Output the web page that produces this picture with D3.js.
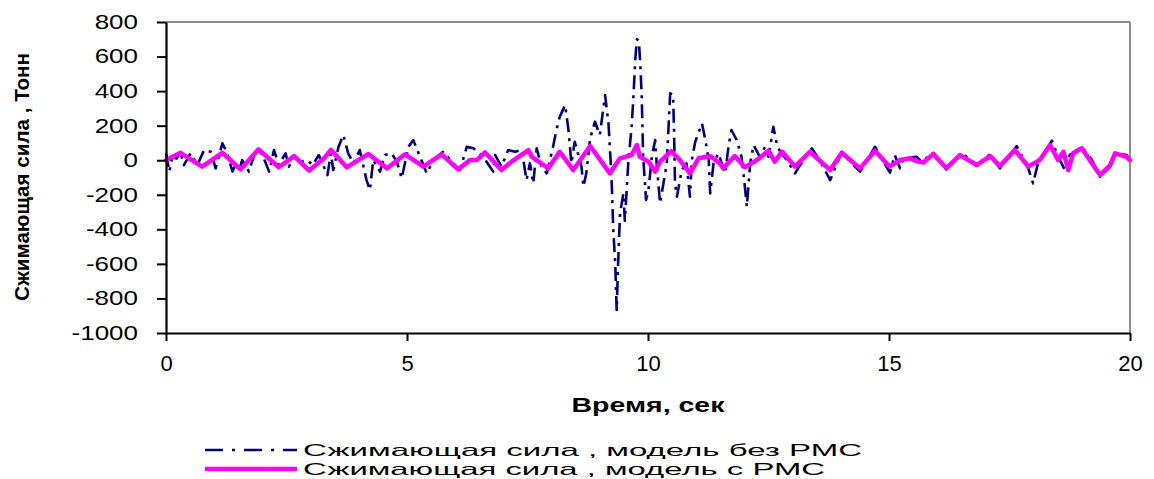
<!DOCTYPE html>
<html><head><meta charset="utf-8">
<script src="https://cdn.jsdelivr.net/npm/d3@7"></script>
<style>body{margin:0;background:#fff}svg{display:block}text{font-family:"Liberation Sans",Arial,sans-serif}</style>
</head><body>
<svg id="c" width="1154" height="479"></svg>
<script>
const yTicks = [800,600,400,200,0,-200,-400,-600,-800,-1000];
const xTicks = [0,5,10,15,20];
const yTitle = "Сжимающая сила , Тонн";
const xTitle = "Время, сек";
const seriesNames = ["Сжимающая сила , модель без РМС","Сжимающая сила , модель с РМС"];

const timeNoRMS = [0.00,0.07,0.13,0.22,0.30,0.37,0.51,0.65,0.79,0.93,1.03,1.17,1.27,1.38,1.45,1.51,1.58,1.72,1.83,1.93,2.03,2.14,2.24,2.34,2.48,2.55,2.66,2.79,2.93,3.04,3.17,3.35,3.42,3.47,3.58,3.68,3.78,3.89,4.02,4.16,4.23,4.30,4.44,4.54,4.68,4.79,4.89,5.03,5.13,5.27,5.41,5.55,5.75,5.96,6.10,6.24,6.38,6.58,6.79,6.83,6.96,7.10,7.24,7.38,7.48,7.55,7.62,7.69,7.79,7.90,8.03,8.10,8.17,8.28,8.35,8.41,8.48,8.62,8.66,8.72,8.80,8.90,9.00,9.11,9.18,9.22,9.25,9.28,9.32,9.35,9.38,9.42,9.49,9.52,9.59,9.66,9.69,9.74,9.77,9.81,9.84,9.87,9.90,9.96,10.01,10.08,10.15,10.18,10.25,10.32,10.39,10.46,10.52,10.54,10.56,10.60,10.70,10.80,10.87,10.91,10.98,11.12,11.19,11.26,11.29,11.36,11.46,11.60,11.67,11.73,11.84,11.94,12.01,12.05,12.12,12.19,12.32,12.43,12.50,12.60,12.67,12.74,12.88,13.05,13.22,13.40,13.60,13.78,14.02,14.20,14.40,14.71,15.02,15.12,15.23,15.30,15.57,15.68,15.92,16.19,16.51,16.82,17.10,17.30,17.65,17.89,17.99,18.09,18.38,18.51,18.65,18.75,19.00,19.21,19.38,19.59,19.69,19.93,20.00];
const forceNoRMS = [40,-66,20,10,45,-28,40,-28,59,49,-47,98,40,-66,-18,-66,1,-66,30,59,11,-66,59,-28,40,-37,20,-10,1,-28,30,-86,40,-57,78,146,40,-18,59,-115,-172,1,-66,30,40,-8,-105,78,117,20,-76,1,49,-18,-57,78,69,20,-66,30,-37,59,49,59,-115,-18,-134,69,-37,-76,78,175,252,319,175,-18,107,-37,-153,-76,127,223,146,377,213,20,-153,-404,-597,-867,-597,-307,-192,-350,-18,194,329,600,700,690,560,367,20,-230,-172,20,117,-18,-250,-134,-18,387,377,175,-134,-211,-57,-18,-211,1,107,213,117,1,-192,-18,40,-76,78,175,117,20,-153,-269,-18,88,20,78,20,194,98,49,1,-76,0,69,-20,-115,49,-10,-66,78,-72,30,-47,11,20,-8,43,-53,43,-28,36,-47,82,-47,-134,-18,113,20,-57,30,78,1,-95,-37,40,30,1];

const timeRMS = [0.00,0.30,0.75,1.17,1.55,1.92,2.34,2.66,2.97,3.28,3.42,3.75,3.99,4.20,4.59,4.96,5.34,5.72,6.06,6.31,6.45,6.62,6.96,7.17,7.52,7.59,7.93,8.17,8.45,8.80,9.21,9.42,9.66,9.77,9.83,10.01,10.15,10.25,10.48,10.65,10.87,11.05,11.29,11.49,11.56,11.80,12.01,12.26,12.50,12.63,12.78,13.05,13.36,13.78,14.02,14.40,14.71,15.01,15.23,15.44,15.57,15.71,15.92,16.19,16.47,16.82,17.10,17.30,17.61,17.89,18.13,18.34,18.51,18.62,18.72,18.82,19.00,19.21,19.38,19.59,19.69,19.93,20.00];
const forceRMS = [0,43,-37,43,-53,63,-41,24,-60,11,60,-41,1,36,-47,34,-37,34,-53,1,1,45,-57,-8,59,20,-47,49,-57,82,-76,11,30,88,20,-8,-66,-8,52,5,-76,11,24,-18,-47,24,-41,1,55,-8,50,-37,49,-57,43,-47,55,-37,1,11,-5,-14,36,-47,30,-28,24,-34,59,-37,1,88,1,49,-57,40,69,-18,-86,-28,40,20,1];

const svg = d3.select("#c");
const L = 166, R = 1130, T = 22, B = 333;
const x = d3.scaleLinear().domain([0,20]).range([L,R]);
const y = d3.scaleLinear().domain([-1000,800]).range([B,T]);

// frame (gray top/right)
svg.append("line").attr("x1",L).attr("x2",R).attr("y1",T).attr("y2",T).attr("stroke","#8c8c8c").attr("stroke-width",2);
svg.append("line").attr("x1",R).attr("x2",R).attr("y1",T).attr("y2",B).attr("stroke","#8c8c8c").attr("stroke-width",2);

// data lines
const dataNo = timeNoRMS.map((t,i)=>[t,forceNoRMS[i]]);
const dataR = timeRMS.map((t,i)=>[t,forceRMS[i]]);
const line = d3.line().x(d=>x(d[0])).y(d=>y(d[1]));
svg.append("path").attr("d",line(dataNo)).attr("fill","none").attr("stroke","#000080")
  .attr("stroke-width",2.6).attr("stroke-dasharray","14,6,3,6").attr("stroke-linejoin","round");
svg.append("path").attr("d",line(dataR)).attr("fill","none").attr("stroke","#ff00ff")
  .attr("stroke-width",4.5).attr("stroke-linejoin","round").attr("stroke-linecap","round");

// axes
const yAxis = svg.append("g").attr("transform",`translate(${L},0)`)
  .call(d3.axisLeft(y).tickValues(yTicks).tickSize(9).tickSizeOuter(0).tickFormat(d=>String(d)));
const xAxis = svg.append("g").attr("transform",`translate(0,${B})`)
  .call(d3.axisBottom(x).tickValues(xTicks).tickSize(8).tickSizeOuter(0).tickPadding(14).tickFormat(d=>String(d)));
[yAxis,xAxis].forEach(g=>{
  g.select(".domain").attr("stroke","#000").attr("stroke-width",2.2);
  g.selectAll(".tick line").attr("stroke","#000").attr("stroke-width",2);
});
yAxis.selectAll(".tick text").attr("font-size",20).attr("fill","#000")
  .attr("font-family","'Liberation Sans',Arial,sans-serif")
  .attr("x",0).attr("transform","translate(-28,0) scale(1.3,1)");
xAxis.selectAll(".tick text").attr("font-size",22).attr("fill","#000")
  .attr("font-family","'Liberation Sans',Arial,sans-serif");

// titles
svg.append("text").attr("x",648).attr("y",412).attr("text-anchor","middle")
  .attr("font-size",20).attr("font-weight","bold").attr("textLength",153).attr("lengthAdjust","spacingAndGlyphs").text(xTitle);
svg.append("text").attr("transform","translate(29,177) rotate(-90)").attr("text-anchor","middle")
  .attr("font-size",21).attr("font-weight","bold").attr("textLength",248).attr("lengthAdjust","spacingAndGlyphs").text(yTitle);

// legend
const leg = svg.append("g");
const legY = [450,469];
leg.append("line").attr("x1",205).attr("x2",297).attr("y1",legY[0]).attr("y2",legY[0])
  .attr("stroke","#000080").attr("stroke-width",2.6).attr("stroke-dasharray","18,9,3,9");
leg.append("line").attr("x1",205).attr("x2",297).attr("y1",legY[1]).attr("y2",legY[1])
  .attr("stroke","#ff00ff").attr("stroke-width",4.5);
leg.append("text").attr("x",303).attr("y",legY[0]+6).attr("font-size",16.5)
  .attr("textLength",559).attr("lengthAdjust","spacingAndGlyphs").text(seriesNames[0]);
leg.append("text").attr("x",303).attr("y",legY[1]+6).attr("font-size",16.5)
  .attr("textLength",522).attr("lengthAdjust","spacingAndGlyphs").text(seriesNames[1]);
</script>
</body></html>
